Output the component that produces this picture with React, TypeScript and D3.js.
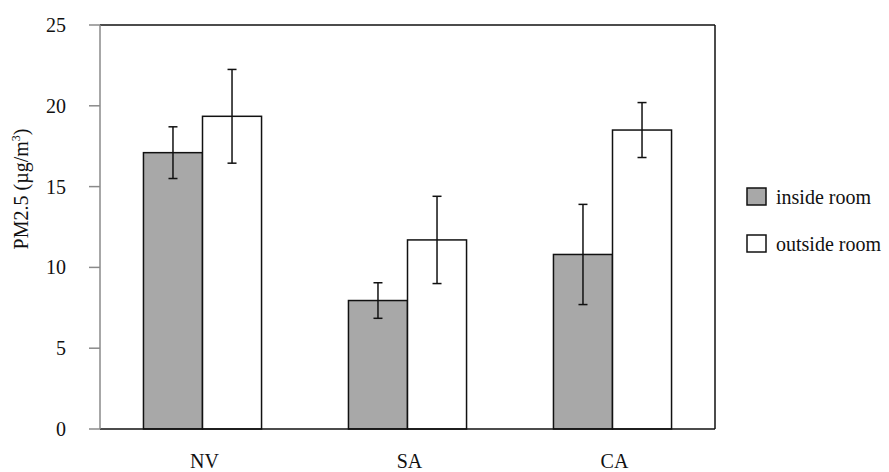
import React from "react";
import * as d3 from "d3";

// PM2.5 concentrations by ventilation type
const categories = ["NV", "SA", "CA"];
const seriesNames = ["inside room", "outside room"];
const insideMeans = [17.1, 7.95, 10.8];
const insideErr = [1.6, 1.1, 3.1];
const outsideMeans = [19.35, 11.7, 18.5];
const outsideErr = [2.9, 2.7, 1.7];
const yTicks = [0, 5, 10, 15, 20, 25];

const W = 889;
const H = 472;
const plot = { left: 100, right: 715, top: 25, bottom: 429 };
const fills = ["#a8a8a8", "#ffffff"];
const FONT = "'Liberation Serif', 'Times New Roman', serif";

export default function App() {
  const x0 = d3
    .scaleBand<string>()
    .domain(categories)
    .range([plot.left, plot.right])
    .padding(0);
  const groupW = x0.bandwidth() * 0.576;
  const y = d3.scaleLinear().domain([0, 25]).range([plot.bottom, plot.top]);

  const series = [
    { name: seriesNames[0], means: insideMeans, errs: insideErr },
    { name: seriesNames[1], means: outsideMeans, errs: outsideErr },
  ];

  return (
    <svg
      width={W}
      height={H}
      style={{ position: "absolute", left: 0, top: 0, background: "#fff" }}
      fontFamily={FONT}
    >
      {/* bars with error bars */}
      {categories.map((c, ci) => {
        const center = (x0(c) ?? 0) + x0.bandwidth() / 2;
        const x1 = d3
          .scaleBand<string>()
          .domain(seriesNames)
          .range([center - groupW / 2, center + groupW / 2]);
        return (
          <g key={c}>
            {series.map((s, si) => {
              const bx = x1(s.name) ?? 0;
              const bw = x1.bandwidth();
              const v = s.means[ci];
              const e = s.errs[ci];
              const cx = bx + bw / 2;
              return (
                <g key={s.name}>
                  <rect
                    x={bx}
                    y={y(v)}
                    width={bw}
                    height={y(0) - y(v)}
                    fill={fills[si]}
                    stroke="#111"
                    strokeWidth={1.5}
                  />
                  <g stroke="#111" strokeWidth={1.5}>
                    <line x1={cx} x2={cx} y1={y(v + e)} y2={y(v - e)} />
                    <line x1={cx - 4.5} x2={cx + 4.5} y1={y(v + e)} y2={y(v + e)} />
                    <line x1={cx - 4.5} x2={cx + 4.5} y1={y(v - e)} y2={y(v - e)} />
                  </g>
                </g>
              );
            })}
            <text
              x={center + 2}
              y={468}
              textAnchor="middle"
              fontSize={20}
              fill="#111"
            >
              {c}
            </text>
          </g>
        );
      })}

      {/* frame: top and right borders, bottom axis */}
      <line x1={plot.left} x2={plot.right} y1={plot.top} y2={plot.top} stroke="#111" strokeWidth={1.5} />
      <line x1={plot.right} x2={plot.right} y1={plot.top} y2={plot.bottom} stroke="#111" strokeWidth={1.5} />
      <line x1={plot.left} x2={plot.right} y1={plot.bottom} y2={plot.bottom} stroke="#111" strokeWidth={1.5} />

      {/* y axis */}
      <line x1={plot.left} x2={plot.left} y1={plot.top} y2={plot.bottom} stroke="#8a8a8a" strokeWidth={1.5} />
      {yTicks.map((t) => (
        <g key={t}>
          <line x1={plot.left - 11} x2={plot.left} y1={y(t)} y2={y(t)} stroke="#8a8a8a" strokeWidth={1.5} />
          <text
            x={66}
            y={y(t)}
            dy="0.35em"
            textAnchor="end"
            fontSize={20}
            fill="#111"
          >
            {t}
          </text>
        </g>
      ))}
      <text
        transform={`translate(28, 189) rotate(-90)`}
        textAnchor="middle"
        fontSize={20}
        fill="#111"
      >
        PM2.5 (µg/m
        <tspan fontSize={12} dy={-8}>3</tspan>
        <tspan dy={8}>)</tspan>
      </text>

      {/* legend */}
      {seriesNames.map((n, i) => (
        <g key={n} transform={`translate(747, ${188 + i * 47})`}>
          <rect x={0} y={0} width={19} height={17} fill={fills[i]} stroke="#111" strokeWidth={1.5} />
          <text x={29} y={15.5} fontSize={20} fill="#111">
            {n}
          </text>
        </g>
      ))}
    </svg>
  );
}
